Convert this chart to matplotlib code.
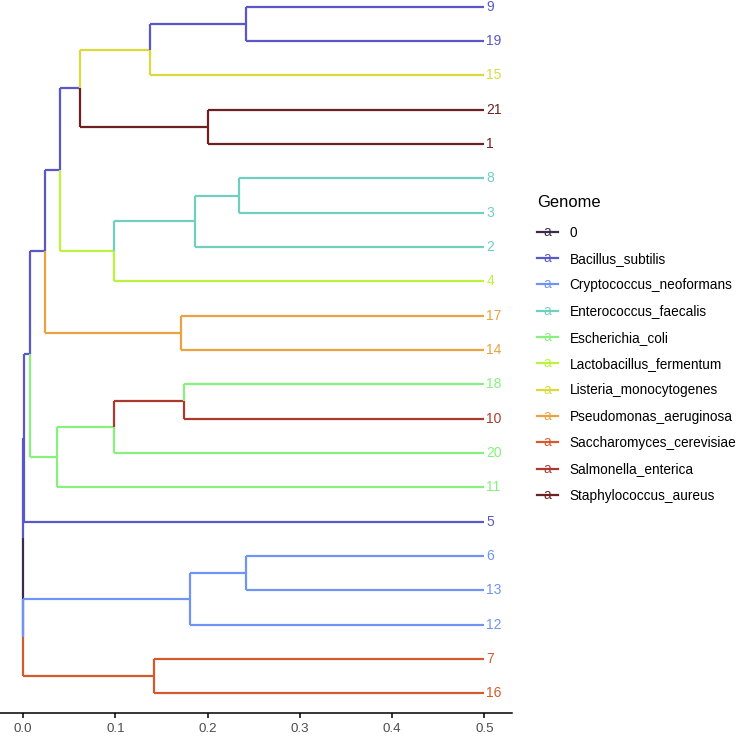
import matplotlib
matplotlib.use("Agg")
import matplotlib.pyplot as plt
from matplotlib.lines import Line2D
from matplotlib.text import Text
from matplotlib.legend_handler import HandlerBase

plt.rcParams['font.family'] = ['Liberation Sans', 'DejaVu Sans']

# ---- data ----
groups = ["0", "Bacillus_subtilis", "Cryptococcus_neoformans", "Enterococcus_faecalis",
          "Escherichia_coli", "Lactobacillus_fermentum", "Listeria_monocytogenes",
          "Pseudomonas_aeruginosa", "Saccharomyces_cerevisiae", "Salmonella_enterica",
          "Staphylococcus_aureus"]
group_colors = ["#3A2A4C", "#5A58C8", "#6F94F4", "#72CFBF", "#88F07C", "#BBF43F",
                "#DADA3E", "#E9A340", "#D45A2C", "#AC3A2C", "#6C2222"]

# internal nodes (name, parent, depth, group)
node_names = ["root", "R", "Q", "P", "P1", "O", "N", "M", "L", "K", "J", "I", "H", "G",
              "F", "E", "D", "C", "B", "A"]
node_parents = [None, "root", "R", "R", "P", "root", "O", "N", "M", "L", "N", "J", "J",
                "H", "G", "F", "H", "D", "D", "B"]
node_depth = [0.0, 0.0, 0.1417, 0.181, 0.242, 0.0006, 0.0079, 0.0372, 0.0987, 0.1746,
              0.0239, 0.1717, 0.0405, 0.0987, 0.1866, 0.234, 0.0618, 0.2007, 0.138, 0.242]
node_group = ["0", "0", "Saccharomyces_cerevisiae", "Cryptococcus_neoformans",
              "Cryptococcus_neoformans", "Bacillus_subtilis", "Bacillus_subtilis",
              "Escherichia_coli", "Escherichia_coli", "Salmonella_enterica",
              "Bacillus_subtilis", "Pseudomonas_aeruginosa", "Bacillus_subtilis",
              "Lactobacillus_fermentum", "Enterococcus_faecalis", "Enterococcus_faecalis",
              "Bacillus_subtilis", "Staphylococcus_aureus", "Listeria_monocytogenes",
              "Bacillus_subtilis"]

# tips, bottom to top
tip_labels = ["16", "7", "12", "13", "6", "5", "11", "20", "10", "18", "14", "17", "4",
              "2", "3", "8", "1", "21", "15", "19", "9"]
tip_parents = ["Q", "Q", "P", "P1", "P1", "O", "M", "L", "K", "K", "I", "I", "G", "F",
               "E", "E", "C", "C", "B", "A", "A"]
tip_depth = [0.5, 0.5, 0.5, 0.5, 0.5, 0.5, 0.5, 0.5, 0.5, 0.5, 0.5, 0.5, 0.5, 0.5, 0.5,
             0.5, 0.5, 0.5, 0.5, 0.5, 0.5]
tip_group = ["Saccharomyces_cerevisiae", "Saccharomyces_cerevisiae",
             "Cryptococcus_neoformans", "Cryptococcus_neoformans", "Cryptococcus_neoformans",
             "Bacillus_subtilis", "Escherichia_coli", "Escherichia_coli",
             "Salmonella_enterica", "Escherichia_coli", "Pseudomonas_aeruginosa",
             "Pseudomonas_aeruginosa", "Lactobacillus_fermentum", "Enterococcus_faecalis",
             "Enterococcus_faecalis", "Enterococcus_faecalis", "Staphylococcus_aureus",
             "Staphylococcus_aureus", "Listeria_monocytogenes", "Bacillus_subtilis",
             "Bacillus_subtilis"]

# ---- layout ----
color_of = dict(zip(groups, group_colors))
depth = dict(zip(node_names, node_depth))
parent = dict(zip(node_names, node_parents))
group = dict(zip(node_names, node_group))
children = {n: [] for n in node_names}
for n, p in zip(node_names, node_parents):
    if p is not None:
        children[p].append(n)
ypos = {}
for i, (t, p, d, g) in enumerate(zip(tip_labels, tip_parents, tip_depth, tip_group)):
    key = "tip_" + t
    depth[key] = d
    parent[key] = p
    group[key] = g
    children[p].append(key)
    children[key] = []
    ypos[key] = i + 1


def get_y(n):
    if n not in ypos:
        ys = [get_y(c) for c in children[n]]
        ypos[n] = (min(ys) + max(ys)) / 2.0
    return ypos[n]


get_y("root")

fig = plt.figure(figsize=(7.36, 7.36), dpi=100)
ax = fig.add_axes([0.0, 0.0312, 0.6957, 0.9688])

lw = 1.6
order = []


def preorder(n):
    order.append(n)
    for c in sorted(children[n], key=lambda c: ypos[c]):
        preorder(c)


preorder("root")
z = 1
for n in order:
    p = parent[n]
    if p is None:
        continue
    col = color_of[group[n]]
    ax.plot([depth[p], depth[p]], [ypos[p], ypos[n]], color=col, lw=lw,
            solid_capstyle='butt', zorder=z)
    ax.plot([depth[p], depth[n]], [ypos[n], ypos[n]], color=col, lw=lw,
            solid_capstyle='butt', zorder=z)
    z += 0.01

for t, d, g in zip(tip_labels, tip_depth, tip_group):
    ax.text(d + 0.002, ypos["tip_" + t], t, color=color_of[g], fontsize=10,
            ha='left', va='center', clip_on=False)

ax.set_xlim(-0.025, 0.530)
ax.set_ylim(0.42, 21.2)
ax.set_xticks([0.0, 0.1, 0.2, 0.3, 0.4, 0.5])
ax.set_xticklabels(["0.0", "0.1", "0.2", "0.3", "0.4", "0.5"])
ax.set_yticks([])
for s in ["left", "top", "right"]:
    ax.spines[s].set_visible(False)
ax.spines["bottom"].set_linewidth(1.1)
ax.tick_params(axis='x', length=3.5, width=1.1, colors='black', labelcolor='#4D4D4D',
               labelsize=9.6, pad=4)


class LineTextHandler(HandlerBase):
    def create_artists(self, legend, orig_handle, xdescent, ydescent, width, height,
                       fontsize, trans):
        col = orig_handle.get_color()
        y = height / 2 - ydescent
        line = Line2D([-xdescent, -xdescent + width], [y, y], color=col, lw=lw)
        line.set_transform(trans)
        txt = Text(-xdescent + width / 2, y, "a", color=col, fontsize=fontsize,
                   ha='center', va='center')
        txt.set_transform(trans)
        return [line, txt]


handles = [Line2D([], [], color=c) for c in group_colors]
leg = fig.legend(handles, groups, title="Genome", loc='upper left',
                 bbox_to_anchor=(537 / 736, 1 - 195 / 736), frameon=False,
                 fontsize=9.8, title_fontsize=11.9, handlelength=1.55,
                 handletextpad=0.85, labelspacing=0.905, borderpad=0, borderaxespad=0,
                 handler_map={Line2D: LineTextHandler()}, alignment='left')
leg._legend_box.sep = 11.2
for t in leg.get_texts():
    t.set_color('black')

fig.savefig("out.png", dpi=100)
